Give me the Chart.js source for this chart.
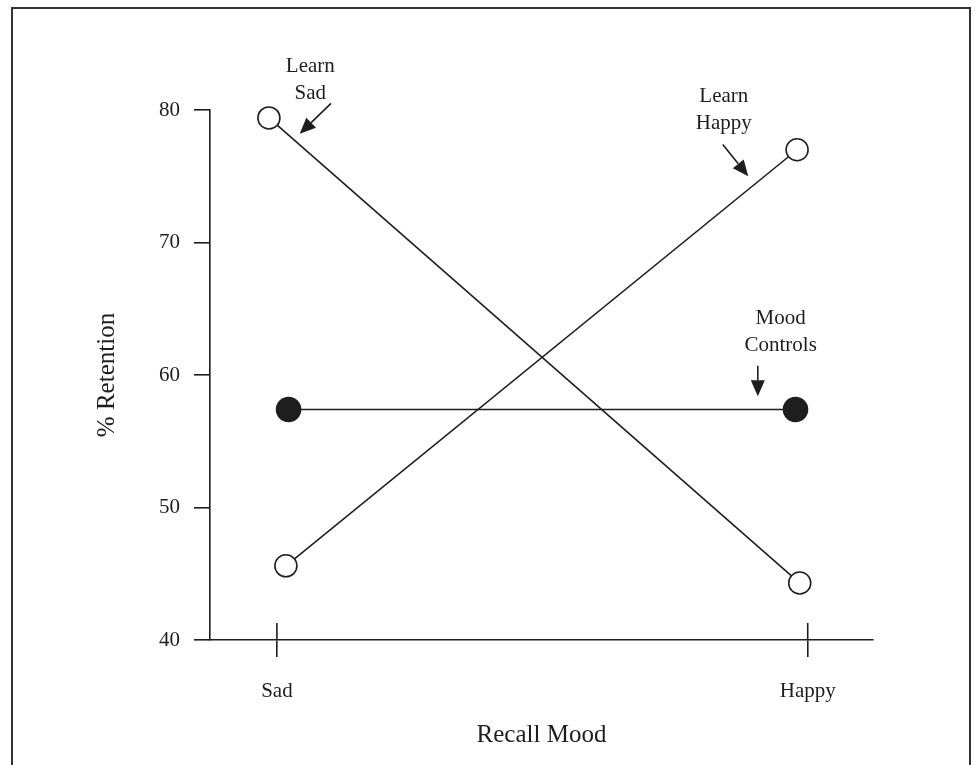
<!DOCTYPE html>
<html>
<head>
<meta charset="utf-8">
<title>Recall Mood</title>
<script src="https://cdn.jsdelivr.net/npm/chart.js@4"></script>
<style>
    html, body { margin: 0; padding: 0; background: #fff; }
    #wrap { width: 976px; height: 765px; position: relative; }
</style>
</head>
<body>
<div id="wrap"><canvas id="moodChart"></canvas></div>
<script>
// Categories on the x axis (Sad = 0, Happy = 1)
const categories = ['Sad', 'Happy'];
const xTickValues = [0, 1];

// Series values
const learnSadX = [-0.015, 0.985];
const learnSadY = [79.4, 44.3];
const learnHappyX = [0.017, 0.98];
const learnHappyY = [45.6, 77.0];
const moodControlsX = [0.022, 0.977];
const moodControlsY = [57.4, 57.4];

// Y axis ticks
const yMin = 40;
const yMax = 80;
const yStep = 10;

// Arrow labels (text anchor, arrow tail, arrow tip), in data units
const noteLines = [['Learn', 'Sad'], ['Learn', 'Happy'], ['Mood', 'Controls']];
const noteAnchorX = [0.063, 0.842, 0.949];
const noteAnchorY = [83.3, 81.0, 64.3];
const arrowFromX = [0.102, 0.840, 0.906];
const arrowFromY = [80.5, 77.4, 60.7];
const arrowToX = [0.043, 0.888, 0.906];
const arrowToY = [78.2, 75.0, 58.4];

const serif = "'Liberation Serif', 'Times New Roman', serif";
const ink = '#1e1e1e';

function toPoints(xs, ys) {
    return xs.map((x, i) => ({ x: x, y: ys[i] }));
}

const hollow = {
    borderColor: ink,
    borderWidth: 1.6,
    pointRadius: 11,
    pointBorderWidth: 1.6,
    pointBackgroundColor: '#fff',
    pointBorderColor: ink,
    showLine: true,
    fill: false,
    clip: false
};

const datasets = [
    { label: 'Learn Sad', data: toPoints(learnSadX, learnSadY), ...hollow },
    { label: 'Learn Happy', data: toPoints(learnHappyX, learnHappyY), ...hollow },
    {
        label: 'Mood Controls',
        data: toPoints(moodControlsX, moodControlsY),
        ...hollow,
        pointRadius: 12,
        pointBackgroundColor: ink
    }
];

function drawArrow(ctx, x1, y1, x2, y2) {
    const ang = Math.atan2(y2 - y1, x2 - x1);
    const head = 16, half = 7;
    const bx = x2 - head * Math.cos(ang);
    const by = y2 - head * Math.sin(ang);
    ctx.beginPath();
    ctx.moveTo(x1, y1);
    ctx.lineTo(bx, by);
    ctx.stroke();
    ctx.beginPath();
    ctx.moveTo(x2, y2);
    ctx.lineTo(bx + half * Math.sin(ang), by - half * Math.cos(ang));
    ctx.lineTo(bx - half * Math.sin(ang), by + half * Math.cos(ang));
    ctx.closePath();
    ctx.fill();
}

// Frame, upper halves of the x tick marks, and the arrow labels
const extras = {
    id: 'extras',
    afterDraw(chart) {
        const ctx = chart.ctx;
        const xs = chart.scales.x;
        const ys = chart.scales.y;
        ctx.save();

        ctx.strokeStyle = '#333';
        ctx.lineWidth = 2;
        ctx.strokeRect(12, 8, 958, 770);

        ctx.strokeStyle = ink;
        ctx.fillStyle = ink;
        ctx.lineWidth = 1.6;
        xTickValues.forEach(v => {
            const px = xs.getPixelForValue(v);
            ctx.beginPath();
            ctx.moveTo(px, chart.chartArea.bottom - 17);
            ctx.lineTo(px, chart.chartArea.bottom);
            ctx.stroke();
        });

        ctx.font = '21px ' + serif;
        ctx.textAlign = 'center';
        ctx.textBaseline = 'middle';
        noteLines.forEach((lines, i) => {
            const cx = xs.getPixelForValue(noteAnchorX[i]);
            const cy = ys.getPixelForValue(noteAnchorY[i]);
            lines.forEach((t, j) => ctx.fillText(t, cx, cy + j * 27));
            drawArrow(ctx,
                xs.getPixelForValue(arrowFromX[i]), ys.getPixelForValue(arrowFromY[i]),
                xs.getPixelForValue(arrowToX[i]), ys.getPixelForValue(arrowToY[i]));
        });
        ctx.restore();
    }
};

const ctx = document.getElementById('moodChart').getContext('2d');
const moodChart = new Chart(ctx, {
    type: 'scatter',
    data: { datasets },
    plugins: [extras],
    options: {
        responsive: true,
        maintainAspectRatio: false,
        animation: false,
        layout: { padding: { left: 80, right: 103, top: 110, bottom: 0 } },
        scales: {
            x: {
                type: 'linear',
                min: -0.126,
                max: 1.123,
                afterBuildTicks: scale => { scale.ticks = xTickValues.map(v => ({ value: v })); },
                afterFit: scale => { scale.height = 125; },
                ticks: {
                    autoSkip: false,
                    maxRotation: 0,
                    padding: 22,
                    color: ink,
                    font: { family: serif, size: 21 },
                    callback: (value, index) => categories[index]
                },
                grid: { drawOnChartArea: false, tickLength: 17, color: ink, lineWidth: 1.6 },
                border: { display: true, color: ink, width: 1.6 },
                title: {
                    display: true,
                    text: 'Recall Mood',
                    color: ink,
                    font: { family: serif, size: 25 },
                    padding: { top: 15, bottom: 15 }
                }
            },
            y: {
                min: yMin,
                max: yMax,
                afterFit: scale => { scale.width = 130; },
                ticks: {
                    stepSize: yStep,
                    padding: 14,
                    color: ink,
                    font: { family: serif, size: 21 }
                },
                grid: { drawOnChartArea: false, tickLength: 16, color: ink, lineWidth: 1.6 },
                border: { display: true, color: ink, width: 1.6 },
                title: {
                    display: true,
                    text: '% Retention',
                    color: ink,
                    font: { family: serif, size: 25 },
                    padding: { top: 12, bottom: 12 }
                }
            }
        },
        plugins: {
            legend: { display: false },
            tooltip: { enabled: false }
        }
    }
});
</script>
</body>
</html>
